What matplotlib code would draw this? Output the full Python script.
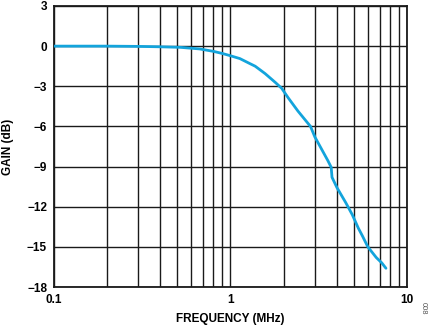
import matplotlib
matplotlib.use("Agg")
import matplotlib.pyplot as plt
from matplotlib.ticker import LogLocator, FixedLocator, NullFormatter

plt.rcParams['font.family'] = ['Liberation Sans', 'DejaVu Sans']
plt.rcParams['font.weight'] = 'bold'

# frequency response (MHz, dB)
freq = [0.1, 0.2, 0.3, 0.4, 0.52, 0.67, 0.8, 0.9, 1.0, 1.13, 1.29, 1.38, 1.57,
        1.79, 1.95, 2.12, 2.41, 2.84, 3.01, 3.22, 3.56, 3.72, 3.76, 4.01, 4.5,
        4.9, 5.3, 5.6, 6.0, 6.7, 7.2, 7.6]
gain = [0, 0, -0.02, -0.05, -0.09, -0.21, -0.39, -0.55, -0.72, -0.93, -1.31,
        -1.5, -2.05, -2.7, -3.15, -3.85, -4.85, -6.0, -6.8, -7.5, -8.55, -9.05,
        -9.8, -10.57, -11.7, -12.6, -13.6, -14.2, -15.0, -15.8, -16.2, -16.6]

x_ticks = [0.1, 1, 10]
x_labels = ['0.1', '1', '10']
y_ticks = [3, 0, -3, -6, -9, -12, -15, -18]
y_labels = ['3', '0', '\u22123', '\u22126', '\u22129', '\u221212', '\u221215', '\u221218']

fig = plt.figure(figsize=(4.35, 3.27), dpi=100)
ax = fig.add_axes([0.1241, 0.1223, 0.8115, 0.8594])

ax.plot(freq, gain, color='#13a4dc', linewidth=2.0, solid_capstyle='round',
        solid_joinstyle='round', zorder=3)

ax.set_xscale('log')
ax.set_xlim(0.1, 10)
ax.set_ylim(-18, 3)

ax.xaxis.set_major_locator(FixedLocator(x_ticks))
ax.set_xticklabels(x_labels)
ax.xaxis.set_minor_locator(LogLocator(base=10, subs=range(2, 10)))
ax.xaxis.set_minor_formatter(NullFormatter())
ax.set_yticks(y_ticks)
ax.set_yticklabels(y_labels)

ax.grid(True, which='both', axis='x', color='#1a1a1a', linewidth=1.0)
ax.grid(True, which='major', axis='y', color='#1a1a1a', linewidth=1.0)
ax.tick_params(which='both', length=0, labelsize=8.5, pad=5)
for s in ax.spines.values():
    s.set_linewidth(1.3)
    s.set_color('#1a1a1a')

ax.set_xlabel('FREQUENCY (MHz)', fontsize=8.5, fontweight='bold', labelpad=5)
ax.set_ylabel('GAIN (dB)', fontsize=8.5, fontweight='bold', labelpad=9)

fig.text(0.972, 0.058, '008', rotation=270, fontsize=5.5, color='#555555',
         fontweight='normal', ha='center', va='center')

fig.savefig('out.png', dpi=100)
